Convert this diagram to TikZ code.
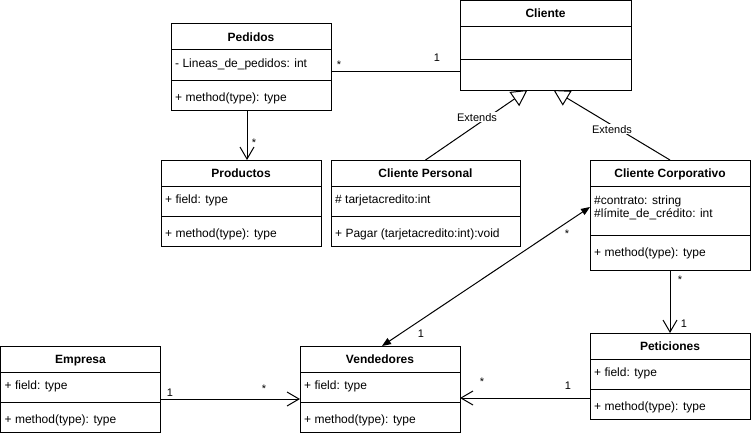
\documentclass[tikz,border=0pt]{standalone}
\usepackage{fontspec}
\setmainfont{Liberation Sans}
\usetikzlibrary{arrows.meta,calc}
\tikzset{
  cls/.style={draw, line width=1pt, outer sep=0pt, inner sep=0pt, minimum height=86pt},
  ttl/.style={anchor=base, inner sep=0pt, font=\fontsize{12}{14}\selectfont\bfseries},
  txt/.style={anchor=base west, inner sep=0pt, font=\fontsize{12}{14}\selectfont},
  mult/.style={anchor=base, inner sep=0pt, font=\fontsize{11}{13}\selectfont},
  extlbl/.style={anchor=base, inner sep=1pt, fill=white, font=\fontsize{11}{13}\selectfont},
  conn/.style={line width=1pt},
  openarrow/.style={conn, -{Straight Barb[length=12pt,width=14pt]}},
  extendsarrow/.style={conn, -{Triangle[open,length=16pt,width=17pt,fill=white]}},
  assocarrow/.style={conn, {Triangle[length=9pt,width=7pt]}-{Triangle[length=9pt,width=7pt]}},
}
\newcommand\umlcls[7]{%
  \node[cls, minimum width=#4pt, anchor=north west] (#1) at (#2,#3) {};
  \draw[line width=1pt] (#2,#3+26) -- ++(#4,0);
  \draw[line width=1pt] (#2,#3+56) -- ++(#4,0);
  \node[ttl] (#1-t) at (#2+#4/2,#3+17.5) {#5};
  \node[txt] (#1-f) at (#2+4,#3+43.5) {#6};
  \node[txt] (#1-m) at (#2+4,#3+77.5) {#7};
}
\begin{document}
\begin{tikzpicture}[x=1pt,y=-1pt]
\useasboundingbox (0,0) rectangle (751,436);

% Cliente
\node[cls, minimum width=171pt, minimum height=89pt, anchor=north west] (cli) at (460,1) {};
\draw[line width=1pt] (460,27) -- ++(171,0);
\draw[line width=1pt] (460,59) -- ++(171,0);
\node[ttl] (cli-t) at (545.5,18) {Cliente};

% Standard classes
\umlcls{ped}{171}{24}{160}{Pedidos}{- Lineas\_de\_pedidos: int}{+ method(type): type}
\umlcls{prod}{161}{160}{160}{Productos}{+ field: type}{+ method(type): type}
\umlcls{cp}{331}{160}{189}{Cliente Personal}{\# tarjetacredito:int}{+ Pagar (tarjetacredito:int):void}
\umlcls{emp}{0.5}{346}{160}{Empresa}{+ field: type}{+ method(type): type}
\umlcls{vend}{300}{346}{160}{Vendedores}{+ field: type}{+ method(type): type}
\umlcls{pet}{590}{333}{160}{Peticiones}{+ field: type}{+ method(type): type}

% Cliente Corporativo
\node[cls, minimum width=160pt, minimum height=110pt, anchor=north west] (corp) at (590,160) {};
\draw[line width=1pt] (590,186) -- ++(160,0);
\draw[line width=1pt] (590,235) -- ++(160,0);
\node[ttl] (corp-t) at (670,177.5) {Cliente Corporativo};
\node[txt] (corp-f1) at (594,204) {\#contrato: string};
\node[txt] (corp-f2) at (594,217.5) {\#límite\_de\_crédito: int};
\node[txt] (corp-m) at (594,256) {+ method(type): type};

% Pedidos -- Cliente
\draw[conn] ([yshift=-4pt]ped.east) coordinate (a1) -- (a1 -| cli.west);
\node[mult] (m1a) at (339,68) {*};
\node[mult] (m1b) at (437,62) {1};

% Pedidos -> Productos
\draw[openarrow] ([xshift=-4pt]ped.south) coordinate (a2) -- (a2 |- prod.north);
\node[mult] (m2a) at (254,146) {*};

% Extends
\draw[extendsarrow] (cp.north) -- ([xshift=-18pt]cli.south);
\node[extlbl] (e1) at (477,121) {Extends};
\draw[extendsarrow] (corp.north) -- ([xshift=8pt]cli.south);
\node[extlbl] (e2) at (612,133) {Extends};

% Cliente Corporativo <-> Vendedores
\draw[assocarrow] ([yshift=8pt]corp.west) -- ([xshift=2pt]vend.north);
\node[mult] (m5a) at (567,237) {*};
\node[mult] (m5b) at (421,337) {1};

% Cliente Corporativo -> Peticiones
\draw[openarrow] (corp.south) -- (pet.north);
\node[mult] (m6a) at (680,283) {*};
\node[mult] (m6b) at (684,327) {1};

% Empresa -> Vendedores
\draw[openarrow] ([yshift=-10pt]emp.east) coordinate (a7) -- (a7 -| vend.west);
\node[mult] (m7a) at (170,396) {1};
\node[mult] (m7b) at (264,392) {*};

% Peticiones -> Vendedores
\draw[openarrow] ([yshift=-22pt]pet.west) coordinate (a8) -- (a8 -| vend.east);
\node[mult] (m8a) at (482,385) {*};
\node[mult] (m8b) at (568,389) {1};
\end{tikzpicture}
\end{document}
